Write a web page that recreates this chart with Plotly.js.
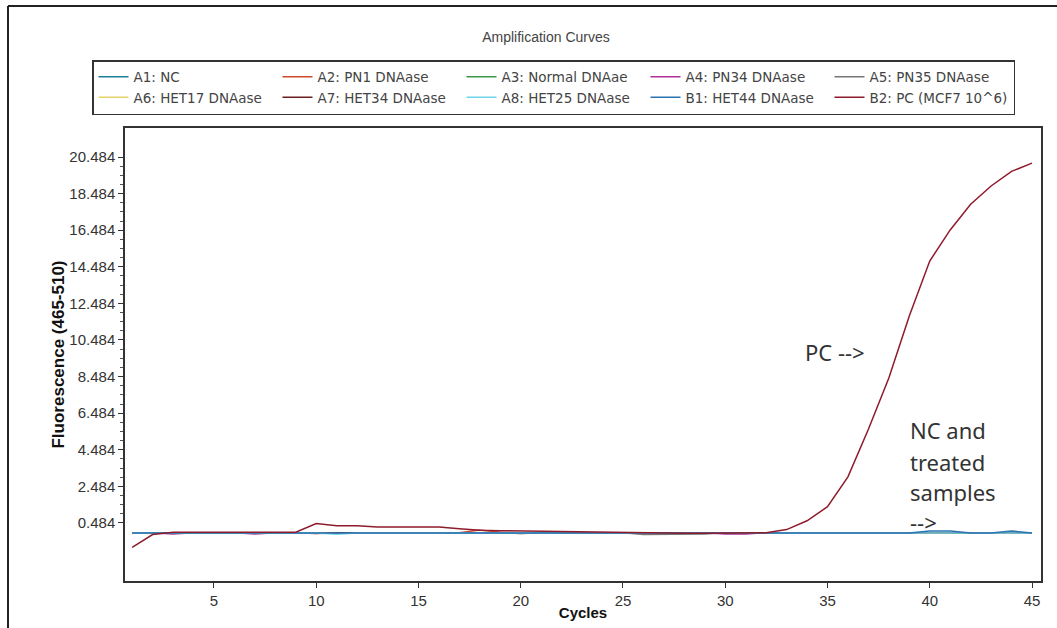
<!DOCTYPE html>
<html>
<head>
<meta charset="utf-8">
<script src="https://cdn.plot.ly/plotly-3.0.1.min.js"></script>
<style>
  html, body { margin: 0; padding: 0; background: #ffffff; }
  #chart { width: 1057px; height: 628px; }
</style>
</head>
<body>
<div id="chart"></div>
<script>
// ---- data ----
var cycles = [1,2,3,4,5,6,7,8,9,10,11,12,13,14,15,16,17,18,19,20,21,22,23,24,25,26,27,28,29,30,31,32,33,34,35,36,37,38,39,40,41,42,43,44,45];

var seriesNames = ["A1: NC", "A2: PN1 DNAase", "A3: Normal DNAae", "A4: PN34 DNAase", "A5: PN35 DNAase",
                   "A6: HET17 DNAase", "A7: HET34 DNAase", "A8: HET25 DNAase", "B1: HET44 DNAase", "B2: PC (MCF7 10^6)"];

var a1NC      = [-0.06,-0.06,-0.06,-0.06,-0.06,-0.06,-0.06,-0.06,-0.06,-0.06,-0.06,-0.06,-0.06,-0.06,-0.06,-0.06,-0.06,-0.06,-0.06,-0.06,-0.06,-0.06,-0.06,-0.06,-0.06,-0.06,-0.06,-0.06,-0.06,-0.06,-0.06,-0.06,-0.06,-0.06,-0.06,-0.06,-0.06,-0.06,-0.06,-0.06,-0.06,-0.06,-0.06,-0.06,-0.06];
var a2PN1     = [-0.05,-0.05,-0.05,-0.05,-0.05,-0.05,-0.05,-0.05,-0.05,-0.05,-0.05,-0.05,-0.05,-0.05,-0.05,-0.05,-0.05,0.10,-0.03,-0.05,-0.05,-0.05,-0.05,-0.05,-0.05,-0.05,-0.05,-0.05,-0.05,-0.05,-0.05,-0.05,-0.05,-0.05,-0.05,-0.05,-0.05,-0.05,-0.05,-0.05,-0.05,-0.05,-0.05,-0.05,-0.05];
var a3Normal  = [-0.05,-0.05,-0.05,-0.05,-0.05,-0.05,-0.05,-0.05,-0.05,-0.05,-0.05,-0.05,-0.05,-0.05,-0.05,-0.05,-0.05,-0.05,-0.05,-0.05,-0.05,-0.05,-0.05,-0.05,-0.05,-0.05,-0.05,-0.05,-0.05,-0.05,-0.05,-0.05,-0.05,-0.05,-0.05,-0.05,-0.05,-0.05,-0.05,-0.05,-0.05,-0.05,-0.05,-0.05,-0.05];
var a4PN34    = [-0.05,-0.05,-0.12,-0.05,-0.05,-0.05,-0.12,-0.05,-0.05,-0.05,-0.05,-0.05,-0.05,-0.05,-0.05,-0.05,-0.05,-0.05,-0.05,-0.05,-0.05,-0.05,-0.05,-0.05,-0.05,-0.05,-0.05,-0.05,-0.05,-0.12,-0.12,-0.05,-0.05,-0.05,-0.05,-0.05,-0.05,-0.05,-0.05,-0.05,-0.05,-0.05,-0.05,-0.05,-0.05];
var a5PN35    = [-0.05,-0.05,-0.05,-0.05,-0.05,-0.05,-0.05,-0.05,-0.05,-0.05,-0.05,-0.05,-0.05,-0.05,-0.05,-0.05,-0.05,-0.05,-0.05,-0.05,-0.05,-0.05,-0.05,-0.05,-0.05,-0.15,-0.15,-0.15,-0.12,-0.05,-0.05,-0.05,-0.05,-0.05,-0.05,-0.05,-0.05,-0.05,-0.05,-0.05,-0.05,-0.04,-0.08,-0.05,-0.05];
var a6HET17   = [-0.05,-0.05,-0.05,-0.05,-0.05,-0.05,-0.05,-0.05,-0.05,-0.05,-0.05,-0.05,-0.05,-0.05,-0.05,-0.05,-0.05,-0.05,-0.05,-0.05,-0.05,-0.05,-0.05,-0.05,-0.05,-0.05,-0.05,-0.05,-0.05,-0.05,-0.05,-0.05,-0.05,-0.05,-0.05,-0.05,-0.05,-0.05,-0.05,-0.05,-0.05,-0.05,-0.05,-0.05,-0.05];
var a7HET34   = [-0.05,-0.05,-0.05,-0.05,-0.05,-0.05,-0.05,-0.05,-0.05,-0.10,-0.05,-0.05,-0.05,-0.05,-0.05,-0.05,-0.05,-0.05,-0.05,-0.10,-0.05,-0.05,-0.05,-0.05,-0.05,-0.05,-0.05,-0.05,-0.05,-0.05,-0.05,-0.05,-0.05,-0.05,-0.05,-0.05,-0.05,-0.05,-0.05,-0.05,-0.05,-0.05,-0.05,-0.05,-0.05];
var a8HET25   = [-0.07,-0.07,-0.07,-0.07,-0.07,-0.07,-0.07,-0.07,-0.07,-0.07,-0.13,-0.07,-0.07,-0.07,-0.07,-0.07,-0.07,-0.07,-0.07,-0.07,-0.07,-0.07,-0.07,-0.07,-0.07,-0.07,-0.07,-0.07,-0.07,-0.07,-0.07,-0.07,-0.07,-0.07,-0.07,-0.07,-0.07,-0.07,-0.07,-0.07,-0.07,-0.07,-0.07,-0.07,-0.07];
var b1HET44   = [-0.06,-0.06,-0.06,-0.06,-0.06,-0.06,-0.06,-0.06,-0.06,-0.06,-0.06,-0.06,-0.06,-0.06,-0.06,-0.06,-0.06,-0.06,-0.06,-0.06,-0.06,-0.06,-0.06,-0.06,-0.06,-0.06,-0.06,-0.06,-0.06,-0.06,-0.06,-0.06,-0.06,-0.06,-0.06,-0.06,-0.06,-0.06,-0.06,0.04,0.04,-0.06,-0.06,0.04,-0.06];
var b2PC      = [-0.85,-0.15,-0.03,-0.03,-0.03,-0.03,-0.03,-0.03,-0.02,0.45,0.33,0.33,0.26,0.26,0.26,0.26,0.17,0.08,0.06,0.04,0.02,0.00,-0.02,-0.04,-0.06,-0.07,-0.08,-0.08,-0.08,-0.08,-0.08,-0.05,0.12,0.60,1.37,3.00,5.60,8.40,11.80,14.80,16.50,17.90,18.90,19.70,20.15];

var seriesColors = ["#1d7f9a", "#d2472f", "#3a9a4a", "#b0309a", "#777777",
                    "#e6d36a", "#6b2020", "#6fd6ea", "#2b74b3", "#8e1b2b"];

var yTickValues = [0.484, 2.484, 4.484, 6.484, 8.484, 10.484, 12.484, 14.484, 16.484, 18.484, 20.484];
var xTickValues = [5, 10, 15, 20, 25, 30, 35, 40, 45];

// minor ticks: three between each pair of labelled y ticks
var yMinorValues = [];
for (var k = 0; k < yTickValues.length - 1; k++) {
  var step = (yTickValues[k + 1] - yTickValues[k]) / 4;
  for (var m = 1; m < 4; m++) yMinorValues.push(+(yTickValues[k] + m * step).toFixed(3));
}

// ---- build traces ----
var seriesValues = [a1NC, a2PN1, a3Normal, a4PN34, a5PN35, a6HET17, a7HET34, a8HET25, b1HET44, b2PC];
var traces = seriesValues.map(function (vals, i) {
  return {
    type: 'scatter',
    mode: 'lines',
    name: seriesNames[i],
    x: cycles,
    y: vals,
    line: { color: seriesColors[i], width: 1.5 },
    hoverinfo: 'x+y+name'
  };
});

var W = 1057, H = 628;
var plotL = 125, plotR = 1041, plotT = 128, plotB = 581;
var pw = plotR - plotL, ph = plotB - plotT;
function px2paperX(p) { return (p - plotL) / pw; }
function px2paperY(p) { return (plotB - p) / ph; }

var baseFont = 'Liberation Sans, Arial, Helvetica, sans-serif';
var legendFont = 'DejaVu Sans, Liberation Sans, sans-serif';
var noteFont = 'Noto Sans, Open Sans, sans-serif';

function note(text, x, y) {
  return { text: text, xref: 'x', yref: 'y', x: x, y: y, xanchor: 'left', yanchor: 'middle', showarrow: false,
           font: { family: noteFont, size: 22, color: '#333333' } };
}

var layout = {
  width: W,
  height: H,
  margin: { l: plotL, r: W - plotR, t: plotT, b: H - plotB, pad: 0, autoexpand: false },
  paper_bgcolor: '#ffffff',
  plot_bgcolor: '#ffffff',
  showlegend: true,
  title: {
    text: 'Amplification Curves',
    font: { family: baseFont, size: 14, color: '#444444' },
    xref: 'container', x: 546 / W, xanchor: 'center',
    yref: 'container', y: 1 - 37 / H, yanchor: 'middle'
  },
  xaxis: {
    range: [0.65, 45.44],
    tickmode: 'array', tickvals: xTickValues,
    ticks: 'outside', ticklen: 5, tickwidth: 1, tickcolor: '#333333',
    showline: true, mirror: true, linecolor: '#333333', linewidth: 1.5,
    showgrid: false, zeroline: false,
    tickfont: { family: baseFont, size: 15, color: '#333333' },
    title: { text: 'Cycles', standoff: 0, font: { family: baseFont, size: 15, color: '#111111', weight: 'bold' } },
    automargin: false
  },
  yaxis: {
    range: [-2.69, 22.07],
    tickmode: 'array', tickvals: yTickValues, tickformat: '.3f',
    ticks: 'outside', ticklen: 5, tickwidth: 1, tickcolor: '#333333',
    minor: { tickmode: 'array', tickvals: yMinorValues, ticks: 'outside', ticklen: 3, tickwidth: 1, tickcolor: '#555555', showgrid: false },
    showline: true, mirror: true, linecolor: '#333333', linewidth: 1.5,
    showgrid: false, zeroline: false,
    tickfont: { family: baseFont, size: 15, color: '#333333' },
    title: { text: 'Fluorescence (465-510)', standoff: 0, font: { family: baseFont, size: 17, color: '#111111', weight: 'bold' } },
    automargin: false
  },
  legend: {
    orientation: 'h',
    x: px2paperX(92), xanchor: 'left',
    y: px2paperY(60), yanchor: 'top',
    bgcolor: '#ffffff',
    bordercolor: '#333333', borderwidth: 1.5,
    entrywidth: 139, entrywidthmode: 'pixels',
    font: { family: legendFont, size: 13.5, color: '#444444' },
    traceorder: 'normal'
  },
  shapes: [
    { type: 'line', xref: 'paper', yref: 'paper', layer: 'above',
      x0: px2paperX(8), x1: px2paperX(1070), y0: px2paperY(6), y1: px2paperY(6),
      line: { color: '#222222', width: 2 } },
    { type: 'line', xref: 'paper', yref: 'paper', layer: 'above',
      x0: px2paperX(8), x1: px2paperX(8), y0: px2paperY(6), y1: px2paperY(640),
      line: { color: '#222222', width: 2 } }
  ],
  annotations: [
    note('PC -->', 33.8, 9.83),
    note('NC and', 38.94, 5.57),
    note('treated', 38.94, 3.82),
    note('samples', 38.94, 2.18),
    note('-->', 38.94, 0.54)
  ]
};

Plotly.newPlot('chart', traces, layout, { displayModeBar: false, responsive: false });
</script>
</body>
</html>
